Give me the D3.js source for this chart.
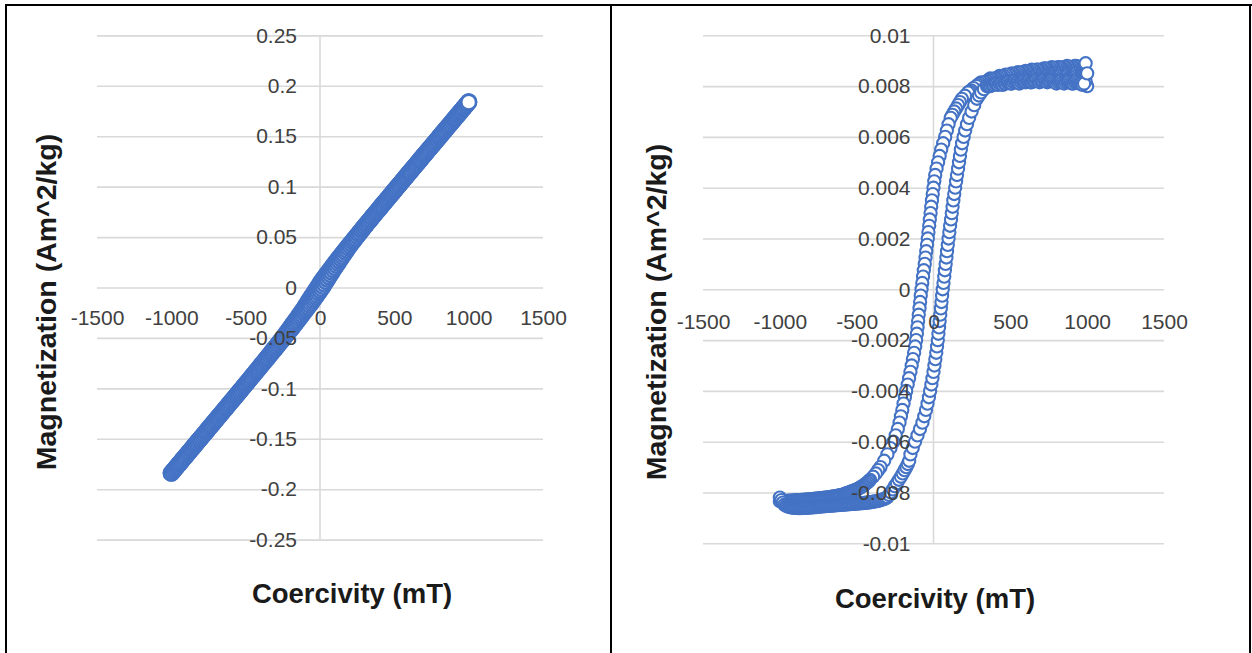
<!DOCTYPE html>
<html><head><meta charset="utf-8">
<script src="https://cdn.jsdelivr.net/npm/d3@7"></script>
<style>
html,body{margin:0;padding:0;background:#fff;}
svg{display:block;}
</style></head><body>
<svg id="chart" width="1252" height="653"></svg>
<script>
// ---------- tick values / labels ----------
const xTicks = [-1500,-1000,-500,0,500,1000,1500];
const xTickLabels = ["-1500","-1000","-500","0","500","1000","1500"];
const leftYTicks = [-0.25,-0.2,-0.15,-0.1,-0.05,0,0.05,0.1,0.15,0.2,0.25];
const leftYTickLabels = ["-0.25","-0.2","-0.15","-0.1","-0.05","0","0.05","0.1","0.15","0.2","0.25"];
const rightYTicks = [-0.01,-0.008,-0.006,-0.004,-0.002,0,0.002,0.004,0.006,0.008,0.01];
const rightYTickLabels = ["-0.01","-0.008","-0.006","-0.004","-0.002","0","0.002","0.004","0.006","0.008","0.01"];
const xTitle = "Coercivity (mT)";
const yTitle = "Magnetization (Am^2/kg)";

// ---------- left chart: raw loop (field in mT, ascending order) ----------
const leftField = [
-1000,-990,-980,-970,-960,-950,-940,-930,-920,-910,
-900,-890,-880,-870,-860,-850,-840,-830,-820,-810,
-800,-790,-780,-770,-760,-750,-740,-730,-720,-710,
-700,-690,-680,-670,-660,-650,-640,-630,-620,-610,
-600,-590,-580,-570,-560,-550,-540,-530,-520,-510,
-500,-490,-480,-470,-460,-450,-440,-430,-420,-410,
-400,-390,-380,-370,-360,-350,-340,-330,-320,-310,
-300,-290,-280,-270,-260,-250,-240,-230,-220,-210,
-200,-190,-180,-170,-160,-150,-140,-130,-120,-110,
-100,-90,-80,-70,-60,-50,-40,-30,-20,-10,
0,10,20,30,40,50,60,70,80,90,
100,110,120,130,140,150,160,170,180,190,
200,210,220,230,240,250,260,270,280,290,
300,310,320,330,340,350,360,370,380,390,
400,410,420,430,440,450,460,470,480,490,
500,510,520,530,540,550,560,570,580,590,
600,610,620,630,640,650,660,670,680,690,
700,710,720,730,740,750,760,770,780,790,
800,810,820,830,840,850,860,870,880,890,
900,910,920,930,940,950,960,970,980,990,
1000];
// descending branch (measured from +1000 down to -1000), listed by field ascending
const leftDown = [
-.1841,-.1823,-.1806,-.1788,-.1771,-.1753,-.1736,-.1718,-.1700,-.1683,
-.1665,-.1647,-.1630,-.1612,-.1595,-.1577,-.1559,-.1542,-.1524,-.1507,
-.1489,-.1471,-.1454,-.1436,-.1418,-.1400,-.1383,-.1365,-.1347,-.1330,
-.1312,-.1294,-.1277,-.1259,-.1241,-.1224,-.1206,-.1188,-.1171,-.1153,
-.1135,-.1117,-.1100,-.1082,-.1064,-.1046,-.1028,-.1010,-.0992,-.0974,
-.0956,-.0939,-.0921,-.0903,-.0885,-.0867,-.0849,-.0830,-.0812,-.0794,
-.0776,-.0758,-.0740,-.0721,-.0703,-.0685,-.0666,-.0648,-.0629,-.0610,
-.0592,-.0573,-.0554,-.0535,-.0516,-.0497,-.0478,-.0458,-.0438,-.0418,
-.0398,-.0377,-.0357,-.0336,-.0316,-.0296,-.0275,-.0254,-.0233,-.0212,
-.0188,-.0165,-.0141,-.0119,-.0096,-.0074,-.0052,-.0028,-.0006,.0017,
.0040,.0062,.0083,.0103,.0123,.0143,.0162,.0182,.0201,.0221,
.0241,.0260,.0279,.0298,.0316,.0335,.0353,.0372,.0390,.0409,
.0427,.0445,.0463,.0481,.0499,.0517,.0536,.0554,.0572,.0590,
.0608,.0625,.0643,.0661,.0679,.0697,.0715,.0732,.0750,.0768,
.0786,.0803,.0821,.0838,.0856,.0874,.0891,.0909,.0927,.0944,
.0962,.0980,.0997,.1015,.1033,.1050,.1068,.1086,.1103,.1121,
.1139,.1156,.1174,.1191,.1209,.1226,.1244,.1262,.1279,.1297,
.1315,.1332,.1350,.1367,.1385,.1402,.1420,.1437,.1455,.1472,
.1490,.1508,.1525,.1543,.1560,.1578,.1595,.1613,.1631,.1648,
.1666,.1683,.1701,.1719,.1736,.1754,.1771,.1789,.1806,.1824,
.1842];
// ascending branch (measured from -1000 up to +1000)
const leftUp = [
-.1841,-.1823,-.1806,-.1788,-.1771,-.1753,-.1736,-.1718,-.1700,-.1683,
-.1665,-.1647,-.1630,-.1612,-.1595,-.1577,-.1559,-.1542,-.1524,-.1507,
-.1489,-.1471,-.1454,-.1436,-.1419,-.1401,-.1383,-.1366,-.1348,-.1331,
-.1313,-.1295,-.1278,-.1260,-.1243,-.1225,-.1207,-.1190,-.1172,-.1155,
-.1137,-.1119,-.1102,-.1084,-.1066,-.1049,-.1031,-.1013,-.0996,-.0978,
-.0960,-.0942,-.0925,-.0907,-.0889,-.0872,-.0854,-.0836,-.0819,-.0801,
-.0783,-.0765,-.0748,-.0730,-.0712,-.0694,-.0676,-.0658,-.0640,-.0622,
-.0605,-.0586,-.0568,-.0550,-.0532,-.0514,-.0496,-.0478,-.0459,-.0441,
-.0423,-.0404,-.0385,-.0366,-.0347,-.0328,-.0309,-.0290,-.0271,-.0251,
-.0232,-.0213,-.0194,-.0175,-.0155,-.0135,-.0115,-.0095,-.0075,-.0054,
-.0032,-.0011,.0011,.0034,.0058,.0082,.0105,.0128,.0151,.0174,
.0197,.0219,.0241,.0263,.0285,.0307,.0329,.0350,.0371,.0392,
.0412,.0432,.0452,.0471,.0490,.0509,.0529,.0547,.0566,.0585,
.0603,.0622,.0640,.0658,.0676,.0694,.0712,.0730,.0748,.0765,
.0783,.0801,.0818,.0836,.0854,.0871,.0889,.0907,.0924,.0942,
.0960,.0977,.0995,.1012,.1030,.1047,.1065,.1083,.1100,.1118,
.1136,.1153,.1171,.1188,.1206,.1223,.1241,.1259,.1276,.1294,
.1312,.1329,.1347,.1364,.1382,.1399,.1417,.1434,.1452,.1469,
.1487,.1505,.1522,.1540,.1557,.1575,.1592,.1610,.1627,.1645,
.1663,.1680,.1698,.1715,.1733,.1750,.1768,.1785,.1803,.1820,
.1838];

// ---------- right chart: corrected loop, in measurement order ----------
const rightDownField = [
1000,990,980,970,960,950,940,930,920,910,
900,890,880,870,860,850,840,830,820,810,
800,790,780,770,760,750,740,730,720,710,
700,690,680,670,660,650,640,630,620,610,
600,590,580,570,560,550,540,530,520,510,
500,490,480,470,460,450,440,430,420,410,
400,390,380,370,360,350,340,330,320,310,
300,290,280,
260,245,235,225,205,185,172,160,147,135,123,112,98,87,76,63,50,40,30,20,11,5,0,
-5,-10,-15,-19,-24,-28,-33,-37,-42,-47,-52,-57,-63,-68,-73,-78,-83,-87,-91,-96,
-100,-104,-108,-113,-119,-126,-134,-142,-150,-159,-168,-178,-186,-195,-203,-212,
-221,-232,-246,-261,-280,-300,-321,-345,-360,-375,-393,-413,
-420,-430,-440,-450,-460,-470,-480,-490,-500,-510,
-520,-530,-540,-550,-560,-570,-580,-590,-600,-610,
-620,-630,-640,-650,-660,-670,-680,-690,-700,-710,
-720,-730,-740,-750,-760,-770,-780,-790,-800,-810,
-820,-830,-840,-850,-860,-870,-880,-890,-900,-910,
-920,-930,-940,-950,-960,-970,-980,-990,-1000];
const rightDownMoment = [
.0080,.0082,.0084,.0086,.0087,.00875,.00875,.0088,.0088,.00875,
.00875,.0087,.00875,.0088,.00875,.00875,.0087,.0087,.00875,.00875,
.0087,.00865,.0087,.00875,.0087,.00865,.00865,.0087,.0087,.00865,
.00865,.0086,.00865,.00865,.0086,.0086,.00865,.0086,.00855,.00855,
.0086,.00855,.00855,.0085,.0085,.00855,.0085,.00845,.00845,.0085,
.00845,.00845,.0084,.00845,.0084,.00835,.00835,.0084,.00835,.0083,
.0083,.00825,.00825,.0083,.00825,.0082,.00815,.00815,.0081,.00815,
.0081,.00805,.0080,
.00792,.00783,.00779,.00775,.00762,.0075,.00737,.00725,.00712,.0070,.00687,.00675,.0065,.00625,.0060,.00575,.0055,.00525,.0050,.00475,.0045,.00425,.0040,
.00375,.0035,.00325,.0030,.00275,.0025,.00225,.0020,.00175,.0015,.00125,.0010,.00075,.0005,.00025,0,-.00025,-.0005,-.00075,-.0010,
-.00125,-.0015,-.00175,-.0020,-.00225,-.0025,-.00275,-.0030,-.00325,-.0035,-.00375,-.0040,-.00425,-.0045,-.00475,-.0050,
-.00525,-.0055,-.00575,-.0060,-.00625,-.0065,-.00675,-.0070,-.00712,-.00725,-.00738,-.0075,
-.00755,-.0076,-.00765,-.0077,-.00774,-.00778,-.00782,-.00785,-.00788,-.0079,
-.00793,-.00795,-.00797,-.0080,-.00802,-.00804,-.00806,-.00808,-.0081,-.0081,
-.00812,-.00813,-.00814,-.00815,-.00816,-.00817,-.00818,-.00819,-.0082,-.0082,
-.00821,-.00822,-.00822,-.00823,-.00824,-.00824,-.00825,-.00826,-.00826,-.00827,
-.00827,-.00828,-.00828,-.00829,-.00829,-.0083,-.0083,-.0083,-.00831,-.00831,
-.00832,-.00832,-.00832,-.00833,-.00833,-.00833,-.00834,-.00834,-.00834];
const rightUpField = [
-1000,-990,-980,-970,-960,-950,-940,-930,-920,-910,
-900,-890,-880,-870,-860,-850,-840,-830,-820,-810,
-800,-790,-780,-770,-760,-750,-740,-730,-720,-710,
-700,-690,-680,-670,-660,-650,-640,-630,-620,-610,
-600,-590,-580,-570,-560,-550,-540,-530,-520,-510,
-500,-490,-480,-470,-460,-450,-440,-430,-420,-410,
-400,-390,-380,-370,-360,-350,-340,-330,-320,-310,
-300,
-290,-278,-265,-252,-238,-225,-212,-200,-188,-177,-167,-158,-150,-135,-120,-104,-88,-72,-60,-49,-39,-30,-22,-14,-7,0,
6,12,18,23,28,32,36,40,44,48,52,56,60,65,70,74,79,84,88,93,98,103,108,114,119,124,129,135,141,147,153,160,
166,172,178,186,196,206,218,232,248,265,283,296,310,328,348,
360,370,380,390,400,410,420,430,440,450,
460,470,480,490,500,510,520,530,540,550,
560,570,580,590,600,610,620,630,640,650,
660,670,680,690,700,710,720,730,740,750,
760,770,780,790,800,810,820,830,840,850,
860,870,880,890,900,910,920,930,940,950,
960,970,980,990,1000];
const rightUpMoment = [
-.0082,-.0083,-.0084,-.00848,-.00852,-.00855,-.00857,-.00858,-.00859,-.0086,
-.0086,-.0086,-.00861,-.00861,-.00861,-.0086,-.0086,-.0086,-.0086,-.00859,
-.00859,-.00858,-.00858,-.00857,-.00857,-.00856,-.00856,-.00855,-.00855,-.00854,
-.00854,-.00853,-.00853,-.00852,-.00852,-.00851,-.00851,-.0085,-.0085,-.00849,
-.00849,-.00848,-.00848,-.00847,-.00847,-.00846,-.00846,-.00845,-.00845,-.00844,
-.00844,-.00843,-.00843,-.00842,-.00842,-.00841,-.0084,-.0084,-.00839,-.00838,
-.00837,-.00836,-.00835,-.00834,-.00833,-.00831,-.00829,-.00827,-.00825,-.00822,
-.00818,
-.0081,-.0080,-.00788,-.00775,-.00763,-.0075,-.00738,-.00725,-.00712,-.0070,-.00688,-.00675,-.0065,-.00625,-.0060,-.00575,-.0055,-.00525,-.0050,-.00475,-.0045,-.00425,-.0040,-.00375,-.0035,-.00325,
-.0030,-.00275,-.0025,-.00225,-.0020,-.00175,-.0015,-.00125,-.0010,-.00075,-.0005,-.00025,0,.00025,.0005,.00075,.0010,.00125,.0015,.00175,.0020,.00225,.0025,.00275,.0030,.00325,.0035,.00375,.0040,.00425,.0045,.00475,
.0050,.00525,.0055,.00575,.0060,.00625,.0065,.00675,.0070,.00725,.0075,.00763,.00775,.00788,.0080,
.0080,.0080,.00805,.00805,.0081,.0081,.00805,.0081,.0081,.00805,
.0081,.0081,.00815,.00815,.0081,.0081,.00815,.0082,.00815,.00815,
.0081,.00815,.0082,.0082,.00815,.0082,.0082,.00815,.00815,.0082,
.0082,.00825,.0082,.00815,.0082,.0082,.00825,.0082,.00815,.0082,
.0082,.00825,.0082,.00815,.0081,.00815,.0082,.0082,.00815,.0081,
.00815,.0082,.0082,.00815,.0081,.0081,.00815,.0082,.00815,.0081,
.0081,.00805,.0081,.0089,.0085];

// ---------- drawing ----------
const svg = d3.select("#chart");
const BLUE = "#4472C4", GRID = "#d9d9d9", TICK = "#404040", TITLE = "#1a1a1a";
const FONT = "'Liberation Sans', Arial, sans-serif";

svg.append("rect").attr("width",1252).attr("height",653).attr("fill","#fff");

function drawPanel(p) {
  const x = d3.scaleLinear().domain([-1500, 1500]).range([p.x0, p.x1]);
  const y = d3.scaleLinear().domain([p.yTicks[0], p.yTicks[p.yTicks.length-1]]).range([p.y0, p.y1]);
  const g = svg.append("g");

  // horizontal gridlines
  g.append("g").attr("transform", `translate(${p.x0},0)`)
    .call(d3.axisLeft(y).tickValues(p.yTicks).tickSize(-(p.x1 - p.x0)).tickFormat(""))
    .call(a => a.select(".domain").remove())
    .call(a => a.selectAll("line").attr("stroke", GRID).attr("stroke-width", 1.6));

  // vertical axis line at zero
  g.append("line")
    .attr("x1", x(0)).attr("x2", x(0))
    .attr("y1", y(p.yTicks[p.yTicks.length-1])).attr("y2", y(p.yTicks[0]))
    .attr("stroke", GRID).attr("stroke-width", 1.6);

  // markers
  const mk = g.append("g");
  p.series.forEach(s => {
    mk.selectAll(null).data(s).enter().append("circle")
      .attr("cx", d => x(d[0])).attr("cy", d => y(d[1]))
      .attr("r", p.r).attr("fill", "#fff")
      .attr("stroke", BLUE).attr("stroke-width", p.sw);
  });

  // y tick labels (axis crosses at x = 0)
  g.append("g").attr("transform", `translate(${x(0)},0)`)
    .call(d3.axisLeft(y).tickValues(p.yTicks).tickSize(0).tickPadding(23)
      .tickFormat((d, i) => p.yLabels[i]))
    .call(a => a.select(".domain").remove())
    .attr("font-family", FONT).attr("font-size", 21).style("color", TICK);

  // x tick labels (axis crosses at y = 0)
  g.append("g").attr("transform", `translate(0,${y(0)})`)
    .call(d3.axisBottom(x).tickValues(xTicks).tickSize(0).tickPadding(p.xPad)
      .tickFormat((d, i) => xTickLabels[i]))
    .call(a => a.select(".domain").remove())
    .attr("font-family", FONT).attr("font-size", 21).style("color", TICK);

  // axis titles
  g.append("text")
    .attr("transform", `translate(${p.ytX},${p.ytY}) rotate(-90)`)
    .attr("text-anchor", "middle").attr("dy", "0.35em")
    .attr("font-family", FONT).attr("font-weight", "bold").attr("font-size", 28.5)
    .attr("fill", TITLE).text(yTitle);
  g.append("text")
    .attr("x", p.xtX).attr("y", p.xtY)
    .attr("text-anchor", "middle").attr("dy", "0.35em")
    .attr("font-family", FONT).attr("font-weight", "bold").attr("font-size", 27.5)
    .attr("fill", TITLE).text(xTitle);
}

drawPanel({
  x0: 97, x1: 543, y0: 539.6, y1: 35.4,
  yTicks: leftYTicks, yLabels: leftYTickLabels, xPad: 23,
  r: 7.4, sw: 2.6,
  series: [d3.zip(leftField, leftDown).reverse(), d3.zip(leftField, leftUp)],
  ytX: 46, ytY: 302, xtX: 352, xtY: 593
});

drawPanel({
  x0: 703, x1: 1164, y0: 543.3, y1: 35.3,
  yTicks: rightYTicks, yLabels: rightYTickLabels, xPad: 25,
  r: 6.1, sw: 2.1,
  series: [d3.zip(rightDownField, rightDownMoment), d3.zip(rightUpField, rightUpMoment)],
  ytX: 656, ytY: 312, xtX: 935, xtY: 598
});

// table borders
const borders = [[5, 5, 1252, 5], [6, 4, 6, 653], [611, 4, 611, 653], [1250, 4, 1250, 653]];
svg.append("g").selectAll("line").data(borders).enter().append("line")
  .attr("x1", d => d[0]).attr("y1", d => d[1]).attr("x2", d => d[2]).attr("y2", d => d[3])
  .attr("stroke", "#000").attr("stroke-width", 2);
</script>
</body></html>
